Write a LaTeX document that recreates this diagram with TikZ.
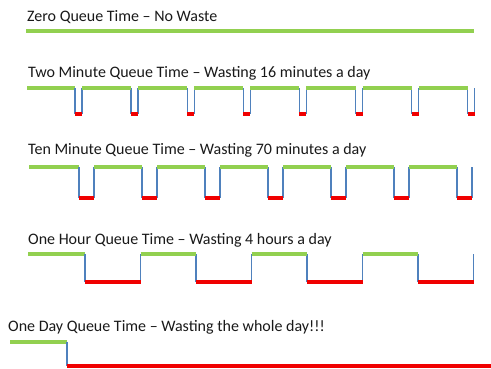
\documentclass[tikz,border=0pt]{standalone}
\usepackage{fontspec}
\setmainfont{Carlito}
\definecolor{runG}{RGB}{146,208,80}
\definecolor{waitR}{RGB}{240,0,0}
\definecolor{edgeB}{RGB}{79,129,189}
\definecolor{labelK}{RGB}{25,25,25}
\begin{document}
\begin{tikzpicture}[x=1pt,y=-1pt,
  lbl/.style={anchor=base west,inner sep=0pt,text=labelK,font=\fontsize{16}{19}\selectfont},
  busy/.style={draw=runG,line width=3.5pt},
  idle/.style={draw=waitR,line width=4pt},
  edge/.style={draw=edgeB,line width=1.4pt}]
\useasboundingbox (0,0) rectangle (491,368);

% Zero queue time
\node[lbl] (t1) at (27,21) {Zero Queue Time – No Waste};
\draw[busy] (26,31) -- (474,31);

% Two minute queue time: 8 short dips
\node[lbl] (t2) at (28,77) {Two Minute Queue Time – Wasting 16 minutes a day};
\draw[busy] (27,88) -- (75,88);
\foreach \i in {0,...,7}{
  \pgfmathsetmacro{\d}{75+56.1*\i}
  \pgfmathsetmacro{\r}{\d+7}
  \draw[edge] (\d,88) -- (\d,114);
  \draw[edge] (\r,88) -- (\r,114);
  \draw[idle] (\d,114) -- (\r,114);
}
\foreach \i in {0,...,6}{
  \pgfmathsetmacro{\a}{82+56.1*\i}
  \pgfmathsetmacro{\b}{75+56.1*(\i+1)}
  \draw[busy] (\a,88) -- (\b,88);
}

% Ten minute queue time: 7 wider dips
\node[lbl] (t3) at (28,154) {Ten Minute Queue Time – Wasting 70 minutes a day};
\draw[busy] (29,167) -- (79,167);
\foreach \i in {0,...,6}{
  \pgfmathsetmacro{\d}{79+63*\i}
  \pgfmathsetmacro{\r}{\d+15}
  \draw[edge] (\d,167) -- (\d,198);
  \draw[edge] (\r,167) -- (\r,198);
  \draw[idle] (\d,198) -- (\r,198);
}
\foreach \i in {0,...,5}{
  \pgfmathsetmacro{\a}{94+63*\i}
  \pgfmathsetmacro{\b}{79+63*(\i+1)}
  \draw[busy] (\a,167) -- (\b,167);
}

% One hour queue time: square wave
\node[lbl] (t4) at (28,244) {One Hour Queue Time – Wasting 4 hours a day};
\draw[busy] (28,254) -- (85,254);
\foreach \i in {0,...,3}{
  \pgfmathsetmacro{\d}{85+111*\i}
  \pgfmathsetmacro{\r}{\d+55.5}
  \draw[edge] (\d,254) -- (\d,282);
  \draw[edge] (\r,254) -- (\r,282);
  \draw[idle] (\d,282) -- (\r,282);
}
\foreach \i in {0,...,2}{
  \pgfmathsetmacro{\a}{140.5+111*\i}
  \pgfmathsetmacro{\b}{\a+55.5}
  \draw[busy] (\a,254) -- (\b,254);
}

% One day queue time
\node[lbl] (t5) at (8,331) {One Day Queue Time – Wasting the whole day!!!};
\draw[busy] (10,342) -- (67,342);
\draw[edge] (67,342) -- (67,366);
\draw[idle] (67,366) -- (495,366);
\end{tikzpicture}
\end{document}
